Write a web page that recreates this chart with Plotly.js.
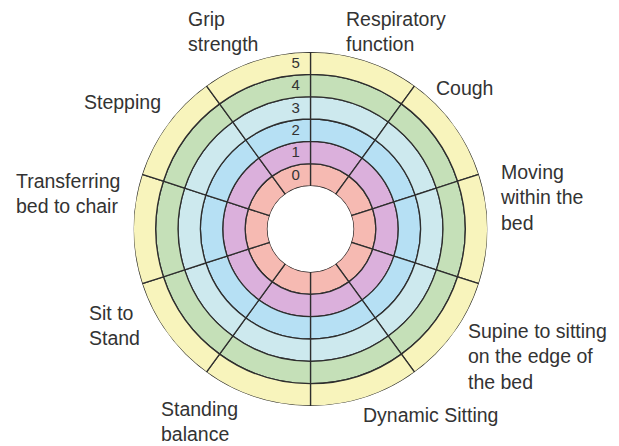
<!DOCTYPE html>
<html>
<head>
<meta charset="utf-8">
<script src="https://cdn.plot.ly/plotly-3.0.1.min.js"></script>
<style>html,body{margin:0;padding:0;background:#fff;}#chart{width:619px;height:446px;}</style>
</head>
<body>
<div id="chart"></div>
<script>
// Categories in clockwise order, starting just right of the top spoke
const categories = [
  "Respiratory function", "Cough", "Moving within the bed",
  "Supine to sitting on the edge of the bed", "Dynamic Sitting",
  "Standing balance", "Sit to Stand", "Transferring bed to chair",
  "Stepping", "Grip strength"
];
// Score levels (rings), inner to outer
const levels = [0, 1, 2, 3, 4, 5];
const levelColors = ["#f6bab2", "#dbb0dc", "#b6e0f4", "#cde9ee", "#c5e0b8", "#f8f4bc"];
// each ring is one unit thick for every category
const ringThickness = [1, 1, 1, 1, 1, 1, 1, 1, 1, 1];
const tickLabels = ["0", "1", "2", "3", "4", "5"];

// Outer labels (text with line breaks) and placement in pixels
const labelTexts = [
  "Respiratory<br>function", "Cough", "Moving<br>within the<br>bed",
  "Supine to sitting<br>on the edge of<br>the bed", "Dynamic Sitting",
  "Standing<br>balance", "Sit to<br>Stand", "Transferring<br>bed to chair",
  "Stepping", "Grip<br>strength"
];
const labelPx = [
  [344, 32], [434, 88], [498, 197], [466, 356], [361, 415],
  [159, 421], [87, 325], [14, 193], [82, 102], [186, 32]
];

const W = 619, H = 446;
const traces = levels.map((lv, i) => ({
  type: "barpolar",
  name: String(lv),
  theta: categories,
  r: ringThickness,
  marker: { color: levelColors[i], line: { color: "#2e2e2e", width: 1.3 } },
  hoverinfo: "skip",
  showlegend: false
}));

const cx = 310.5, cy = 229, R = 177;
const annotations = labelTexts.map((t, i) => ({
  text: t, xref: "paper", yref: "paper",
  x: labelPx[i][0] / W, y: 1 - labelPx[i][1] / H,
  xanchor: "left", yanchor: "middle", align: "left",
  showarrow: false,
  font: { family: "Liberation Sans, Arial, sans-serif", size: 19.5, color: "#333333" }
}));

const layout = {
  width: W, height: H,
  margin: { l: 0, r: 0, t: 0, b: 0 },
  paper_bgcolor: "#ffffff",
  showlegend: false,
  polar: {
    domain: { x: [(cx - R) / W, (cx + R) / W], y: [1 - (cy + R) / H, 1 - (cy - R) / H] },
    hole: 43 / 177,
    barmode: "stack",
    bargap: 0,
    bgcolor: "rgba(0,0,0,0)",
    angularaxis: {
      type: "category", direction: "clockwise", rotation: 72,
      showticklabels: false, ticks: "", showgrid: false, showline: false
    },
    radialaxis: {
      range: [0, 6], angle: 90, side: "counterclockwise",
      tickvals: levels.map(v => v + 0.5), ticktext: tickLabels,
      ticks: "outside", ticklen: 5, tickcolor: "rgba(0,0,0,0)",
      showgrid: false, showline: false,
      tickangle: 90,
      tickfont: { family: "Liberation Sans, Arial, sans-serif", size: 15, color: "#333333" }
    }
  },
  annotations: annotations
};

Plotly.newPlot("chart", traces, layout, { staticPlot: true, displayModeBar: false });
</script>
</body>
</html>
